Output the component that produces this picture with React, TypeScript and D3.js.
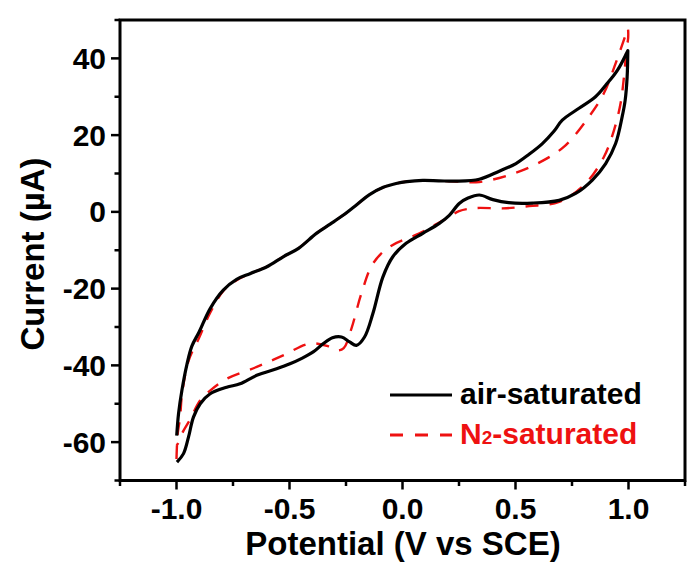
import React from "react";
import * as d3 from "d3";

// ---- data (potential in V vs SCE, current in µA) ----
const airPotential = [
  -0.999, -0.991, -0.976, -0.954, -0.932, -0.9, -0.851, -0.793, -0.734, -0.675, -0.6, -0.528, -0.46,
  -0.381, -0.32, -0.263, -0.2, -0.146, -0.085, -0.028, 0.02, 0.09, 0.16, 0.237, 0.34, 0.428, 0.502,
  0.56, 0.619, 0.67, 0.707, 0.781, 0.854, 0.899, 0.95, 0.997,
  0.997, 0.994, 0.985, 0.972, 0.943, 0.899, 0.84, 0.766, 0.693, 0.575, 0.47, 0.4, 0.34, 0.29, 0.251,
  0.207, 0.163, 0.09, 0.016, -0.043, -0.087, -0.131, -0.168, -0.204, -0.234, -0.27, -0.31, -0.35,
  -0.395, -0.45, -0.498, -0.557, -0.645, -0.719, -0.778, -0.851, -0.895, -0.925, -0.947, -0.969, -0.998,
];
const airCurrent = [
  -58.3, -52.6, -46.5, -39.8, -35.0, -31.3, -25.2, -20.4, -17.6, -16.1, -14.3, -11.7, -9.5,
  -5.6, -3.2, -0.9, 2.0, 4.5, 6.4, 7.4, 7.9, 8.2, 8.1, 8.0, 8.5, 10.6, 12.6,
  15.0, 17.8, 21.0, 23.9, 27.0, 30.0, 33.0, 36.8, 42.0,
  42.0, 35.2, 29.0, 24.8, 17.8, 12.6, 8.3, 4.8, 3.0, 2.3, 2.4, 3.2, 4.4, 3.6, 2.2,
  -0.9, -3.0, -5.6, -8.2, -11.7, -17.0, -26.5, -32.6, -34.8, -33.9, -32.6, -32.8, -34.3,
  -36.5, -38.3, -39.6, -40.9, -42.6, -44.8, -45.7, -47.4, -50.0, -53.5, -58.7, -63.0, -65.2,
];

const n2Potential = [
  -1.0, -0.995, -0.984, -0.976, -0.947, -0.9, -0.851, -0.793, -0.734, -0.675, -0.6, -0.528, -0.46,
  -0.381, -0.32, -0.263, -0.2, -0.146, -0.085, -0.028, 0.02, 0.09, 0.16, 0.237, 0.34, 0.472, 0.597,
  0.715, 0.825, 0.891, 0.943, 0.987, 0.997,
  0.997, 0.994, 0.98, 0.965, 0.936, 0.891, 0.81, 0.693, 0.56, 0.443, 0.325, 0.25, 0.207, 0.14, 0.075,
  -0.057, -0.131, -0.182, -0.226, -0.26, -0.292, -0.33, -0.41, -0.528, -0.645, -0.778, -0.85, -0.895,
  -0.94, -0.976, -0.995, -1.0,
];
const n2Current = [
  -64.4, -58.0, -53.5, -47.8, -38.9, -32.8, -26.3, -20.6, -17.8, -16.1, -14.3, -11.7, -9.5,
  -5.6, -3.2, -0.9, 2.0, 4.5, 6.4, 7.4, 7.9, 8.2, 8.1, 7.9, 7.8, 9.6, 12.6,
  17.0, 24.8, 30.9, 38.7, 46.1, 47.8,
  44.5, 43.9, 35.2, 28.3, 21.3, 14.3, 7.4, 2.6, 1.5, 0.9, 1.0, 0.2, -1.3, -3.5, -5.6,
  -9.1, -13.5, -21.3, -30.4, -35.5, -36.1, -35.0, -34.3, -37.4, -40.4, -43.5, -46.5, -49.1,
  -54.1, -57.8, -60.5, -61.0,
];

const xMajorTicks = [-1.0, -0.5, 0.0, 0.5, 1.0];
const xMinorTicks = [-1.25, -0.75, -0.25, 0.25, 0.75, 1.25];
const yMajorTicks = [-60, -40, -20, 0, 20, 40];
const yMinorTicks = [-70, -50, -30, -10, 10, 30, 50];

const seriesNames = ["air-saturated", "-saturated"];

const FONT = "'Liberation Sans', Arial, Helvetica, sans-serif";

export default function App() {
  const W = 692;
  const H = 563;
  const left = 120, right = 685, top = 20, bottom = 480.5;

  const x = d3.scaleLinear().domain([-1.25, 1.25]).range([left, right]);
  const y = d3.scaleLinear().domain([-70, 50]).range([bottom, top]);

  const line = d3
    .line<[number, number]>()
    .x((d) => x(d[0]))
    .y((d) => y(d[1]))
    .curve(d3.curveCatmullRom.alpha(0.5));

  const airPts: [number, number][] = airPotential.map((v, i) => [v, airCurrent[i]]);
  const n2Pts: [number, number][] = n2Potential.map((v, i) => [v, n2Current[i]]);

  const red = "#ee1111";

  return (
    <div style={{ position: "absolute", left: 0, top: 0, width: W, height: H, background: "#fff" }}>
      <svg width={W} height={H} style={{ display: "block" }} fontFamily={FONT} fontWeight="bold">
        <rect x={0} y={0} width={W} height={H} fill="#fff" />

        {/* curves */}
        <path d={line(n2Pts) || ""} fill="none" stroke={red} strokeWidth={2.4} strokeDasharray="13,11" />
        <path d={line(airPts) || ""} fill="none" stroke="#000" strokeWidth={3.2} strokeLinejoin="round" />

        {/* frame */}
        <rect x={left} y={top} width={right - left} height={bottom - top} fill="none" stroke="#000" strokeWidth={3} />

        {/* x ticks */}
        {xMajorTicks.map((t) => (
          <g key={"xm" + t}>
            <line x1={x(t)} x2={x(t)} y1={bottom} y2={bottom + 9} stroke="#000" strokeWidth={2.5} />
            <text x={x(t)} y={519} textAnchor="middle" fontSize={30}>
              {t.toFixed(1)}
            </text>
          </g>
        ))}
        {xMinorTicks.map((t) => (
          <line key={"xn" + t} x1={x(t)} x2={x(t)} y1={bottom} y2={bottom + 5.5} stroke="#000" strokeWidth={2.5} />
        ))}

        {/* y ticks */}
        {yMajorTicks.map((t) => (
          <g key={"ym" + t}>
            <line x1={left} x2={left - 9} y1={y(t)} y2={y(t)} stroke="#000" strokeWidth={2.5} />
            <text x={106} y={y(t) + 10.5} textAnchor="end" fontSize={30}>
              {String(t)}
            </text>
          </g>
        ))}
        {yMinorTicks.map((t) => (
          <line key={"yn" + t} x1={left} x2={left - 5.5} y1={y(t)} y2={y(t)} stroke="#000" strokeWidth={2.5} />
        ))}

        {/* axis titles */}
        <text x={403} y={555} textAnchor="middle" fontSize={33}>
          Potential (V vs SCE)
        </text>
        <text transform="translate(44,254) rotate(-90)" textAnchor="middle" fontSize={33}>
          Current (µA)
        </text>

        {/* legend */}
        <line x1={390} x2={452} y1={395} y2={395} stroke="#000" strokeWidth={3.2} />
        <text x={460} y={404} fontSize={30}>
          {seriesNames[0]}
        </text>
        <line x1={390} x2={452} y1={435} y2={435} stroke={red} strokeWidth={3} strokeDasharray="13,12" />
        <text x={460} y={444} fontSize={30} fill={red}>
          N<tspan fontSize={19}>2</tspan>
          {seriesNames[1]}
        </text>
      </svg>
    </div>
  );
}
